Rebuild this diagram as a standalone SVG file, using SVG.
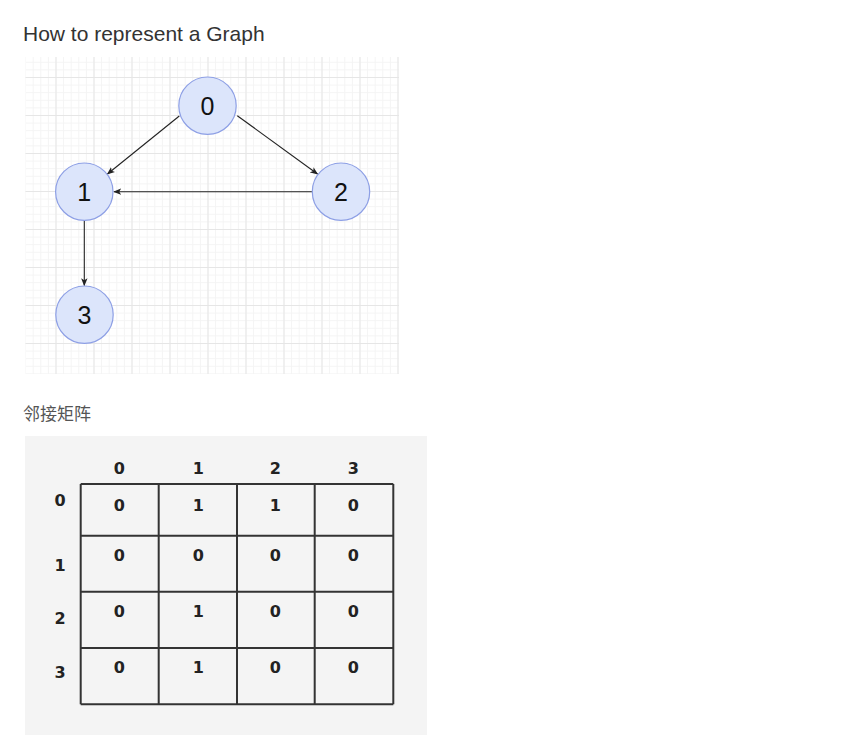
<svg xmlns="http://www.w3.org/2000/svg" width="865" height="748" viewBox="0 0 865 748">
<style>
.title{font-family:"Liberation Sans",Arial,sans-serif;font-size:21px;fill:#333}
.sub{font-family:"Noto Sans CJK SC","Noto Sans",sans-serif;font-size:17px;fill:#555}
.node circle{fill:#dce5fb;stroke:#8d9fe5;stroke-width:1.2}
.node text{font-family:"Liberation Sans",Arial,sans-serif;font-size:25px;fill:#111;text-anchor:middle}
.edge{stroke:#222;stroke-width:1.1;fill:none;marker-end:url(#arr)}
.tl{stroke:#333;stroke-width:2;fill:none}
.m text{font-family:"DejaVu Sans",Verdana,sans-serif;font-weight:bold;font-size:16px;fill:#222;text-anchor:middle}
</style>
<defs>
<pattern id="gm" width="7.6" height="7.6" patternUnits="userSpaceOnUse" x="17.5" y="1">
<path d="M0.5 0V7.6M0 0.5H7.6" stroke="#f4f4f4" stroke-width="1"/>
</pattern>
<pattern id="gM" width="38" height="38" patternUnits="userSpaceOnUse" x="17.5" y="1">
<path d="M0.5 0V38M0 0.5H38" stroke="#e6e6e6" stroke-width="1"/>
</pattern>
<marker id="arr" viewBox="0 0 10 8" refX="9" refY="4" markerWidth="8" markerHeight="7" markerUnits="userSpaceOnUse" orient="auto">
<path d="M0 0L10 4L0 8L2.5 4z" fill="#222"/>
</marker>
</defs>
<rect width="865" height="748" fill="#fff"/>
<text class="title" x="23" y="41">How to represent a Graph</text>
<g id="grid">
<rect x="25.5" y="57" width="373.5" height="317" fill="#fff"/>
<rect x="25.5" y="57" width="373.5" height="317" fill="url(#gm)"/>
<rect x="25.5" y="57" width="373.5" height="317" fill="url(#gM)"/>
</g>
<g id="connectors">
<path class="edge" d="M179.3 116L107.5 174"/>
<path class="edge" d="M237.3 115.7L317.5 174"/>
<path class="edge" d="M312.7 191.7H114"/>
<path class="edge" d="M84.3 220V285.5"/>
</g>
<g id="node0" class="node"><circle cx="207.5" cy="105.7" r="28.7"/><text x="207.5" y="114.6">0</text></g>
<g id="node1" class="node"><circle cx="84.3" cy="191.7" r="28.7"/><text x="84.3" y="200.6">1</text></g>
<g id="node2" class="node"><circle cx="341" cy="191.7" r="28.7"/><text x="341" y="200.6">2</text></g>
<g id="node3" class="node"><circle cx="84.5" cy="314.7" r="28.7"/><text x="84.5" y="323.6">3</text></g>
<text class="sub" x="23" y="420">邻接矩阵</text>
<g id="matrix" class="m">
<rect x="25" y="436" width="402" height="299" fill="#f4f4f4"/>
<path class="tl" d="M80.7 484H393.3M80.7 535.7H393.3M80.7 591.7H393.3M80.7 648H393.3M80.7 704.3H393.3M80.7 484V704.3M158.7 484V704.3M237 484V704.3M314.7 484V704.3M393.3 484V704.3"/>
<text x="119.3" y="474.3">0</text><text x="198.3" y="474.3">1</text><text x="275.3" y="474.3">2</text><text x="353.3" y="474.3">3</text>
<text x="60" y="505.8">0</text><text x="60" y="571.3">1</text><text x="60" y="624.3">2</text><text x="60" y="678.3">3</text>
<text x="119.3" y="510.8">0</text><text x="198.3" y="510.8">1</text><text x="275.3" y="510.8">1</text><text x="353.3" y="510.8">0</text>
<text x="119.3" y="560.8">0</text><text x="198.3" y="560.8">0</text><text x="275.3" y="560.8">0</text><text x="353.3" y="560.8">0</text>
<text x="119.3" y="617.3">0</text><text x="198.3" y="617.3">1</text><text x="275.3" y="617.3">0</text><text x="353.3" y="617.3">0</text>
<text x="119.3" y="673.3">0</text><text x="198.3" y="673.3">1</text><text x="275.3" y="673.3">0</text><text x="353.3" y="673.3">0</text>
</g>
</svg>
